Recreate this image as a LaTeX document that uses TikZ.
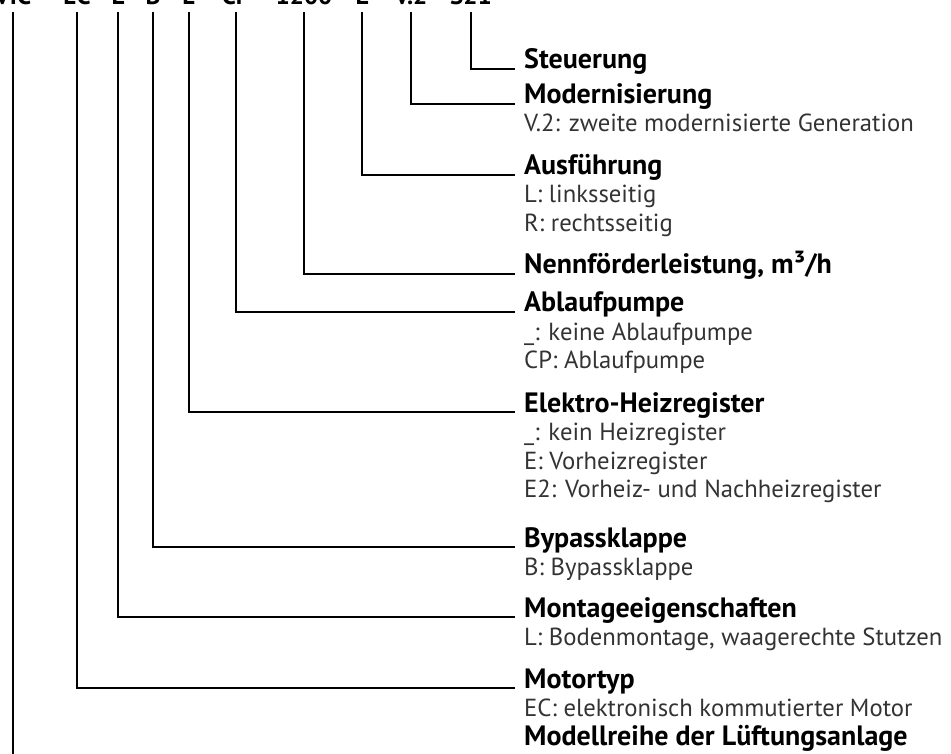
\documentclass[tikz,border=0pt]{standalone}
\usepackage{fontspec}
\setmainfont{PT Sans}
\begin{document}
\begin{tikzpicture}[x=1pt,y=-1pt,
  codetxt/.style={anchor=base,inner sep=0pt,font=\fontsize{25}{30}\selectfont\bfseries},
  titletxt/.style={anchor=base west,inner xsep=9pt,inner ysep=0pt,font=\fontsize{28}{32}\selectfont\bfseries},
  desctxt/.style={anchor=base west,inner xsep=9pt,inner ysep=0pt,text=black!80,font=\fontsize{24.7}{28}\selectfont},
  conn/.style={draw=black,line width=1.3pt}]
\useasboundingbox (0,0) rectangle (951,754);
% code row (cut off at the top)
\node[codetxt] (c1) at (13,5) {VIC};
\node[codetxt] (c2) at (77,5) {EC};
\node[codetxt] (c3) at (118,5) {L};
\node[codetxt] (c4) at (153,5) {B};
\node[codetxt] (c5) at (189,5) {E};
\node[codetxt] (c6) at (236,5) {CP};
\node[codetxt] (c7) at (304,5) {1200};
\node[codetxt] (c8) at (362,5) {L};
\node[codetxt] (c9) at (411,5) {V.2};
\node[codetxt] (c10) at (471,5) {S21};
% titles
\node[titletxt] (t10) at (515,69) {Steuerung};
\node[titletxt] (t9) at (515,104) {Modernisierung};
\node[desctxt] (d9a) at (515,132) {V.2: zweite modernisierte Generation};
\node[titletxt] (t8) at (515,175) {Ausführung};
\node[desctxt] (d8a) at (515,203) {L: linksseitig};
\node[desctxt] (d8b) at (515,232) {R: rechtsseitig};
\node[titletxt] (t7) at (515,274) {Nennförderleistung, m³/h};
\node[titletxt] (t6) at (515,312) {Ablaufpumpe};
\node[desctxt] (d6a) at (515,340) {\_: keine Ablaufpumpe};
\node[desctxt] (d6b) at (515,368) {CP: Ablaufpumpe};
\node[titletxt] (t5) at (515,412) {Elektro-Heizregister};
\node[desctxt] (d5a) at (515,440) {\_: kein Heizregister};
\node[desctxt] (d5b) at (515,469) {E: Vorheizregister};
\node[desctxt] (d5c) at (515,497) {E2: Vorheiz- und Nachheizregister};
\node[titletxt] (t4) at (515,547) {Bypassklappe};
\node[desctxt] (d4a) at (515,575) {B: Bypassklappe};
\node[titletxt] (t3) at (515,617) {Montageeigenschaften};
\node[desctxt] (d3a) at (515,645) {L: Bodenmontage, waagerechte Stutzen};
\node[titletxt] (t2) at (515,688) {Motortyp};
\node[desctxt] (d2a) at (515,716) {EC: elektronisch kommutierter Motor};
\node[titletxt] (t1) at (515,745) {Modellreihe der Lüftungsanlage};
\coordinate (e1) at (13,760);
% connectors
\draw[conn] ([yshift=-7pt]c10.base) |- (t10.base west);
\draw[conn] ([yshift=-7pt]c9.base) |- (t9.base west);
\draw[conn] ([yshift=-7pt]c8.base) |- (t8.base west);
\draw[conn] ([yshift=-7pt]c7.base) |- (t7.base west);
\draw[conn] ([yshift=-7pt]c6.base) |- (t6.base west);
\draw[conn] ([yshift=-7pt]c5.base) |- (t5.base west);
\draw[conn] ([yshift=-7pt]c4.base) |- (t4.base west);
\draw[conn] ([yshift=-7pt]c3.base) |- (t3.base west);
\draw[conn] ([yshift=-7pt]c2.base) |- (t2.base west);
\draw[conn] ([yshift=-7pt]c1.base) -- (e1);
\end{tikzpicture}
\end{document}
